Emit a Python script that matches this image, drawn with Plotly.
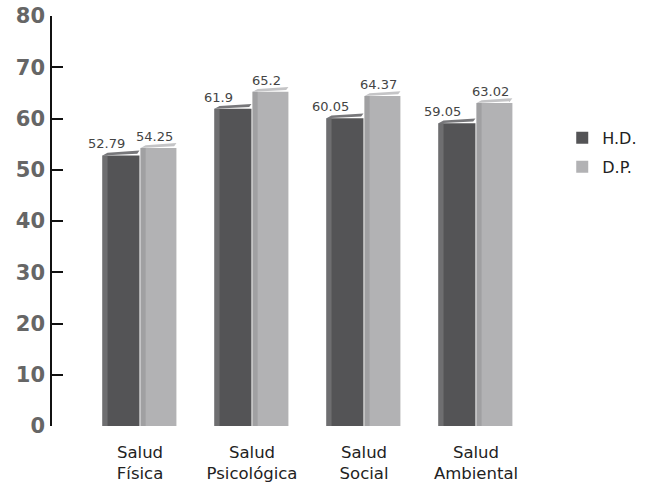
import plotly.graph_objects as go

categories = ["Salud<br>Física", "Salud<br>Psicológica", "Salud<br>Social", "Salud<br>Ambiental"]
hd_values = [52.79, 61.9, 60.05, 59.05]
dp_values = [54.25, 65.2, 64.37, 63.02]
y_ticks = [0, 10, 20, 30, 40, 50, 60, 70, 80]

series = [
    dict(name="H.D.", values=hd_values, color="#545456", side="#6e6e70", top="#77777a", offset=-0.335, width=0.33, label_dx=-0.3),
    dict(name="D.P.", values=dp_values, color="#b2b2b4", side="#a0a0a2", top="#c4c4c6", offset=0.005, width=0.32, label_dx=0.13),
]

FONT = "DejaVu Sans"
idx = list(range(len(categories)))
fig = go.Figure()
shapes = []
annotations = []
for s in series:
    fig.add_trace(go.Bar(
        x=idx, y=s["values"], name=s["name"], width=s["width"], offset=s["offset"],
        marker=dict(color=s["color"], line=dict(width=0)),
        legendgroup=s["name"], hoverinfo="skip",
    ))
    for i, v in zip(idx, s["values"]):
        xl = i + s["offset"]
        xr = xl + s["width"]
        # left side face
        shapes.append(dict(type="rect", xref="x", yref="y", x0=xl, x1=xl + 0.045, y0=-0.4, y1=v,
                           fillcolor=s["side"], line=dict(width=0), layer="above"))
        # top face
        shapes.append(dict(type="path", xref="x", yref="y",
                           path=f"M {xl},{v} L {xl+0.045},{v+0.55} L {xr},{v+0.95} L {xr-0.02},{v+0.35} Z",
                           fillcolor=s["top"], line=dict(width=0), layer="above"))
        annotations.append(dict(x=i + s["label_dx"], y=v, xref="x", yref="y", text=f"{v:g}",
                                showarrow=False, yanchor="bottom", yshift=2,
                                font=dict(family=FONT, size=13, color="#444444")))

fig.update_layout(
    width=659, height=484,
    margin=dict(l=52, r=127, t=16, b=58, autoexpand=False),
    paper_bgcolor="white", plot_bgcolor="white",
    barmode="overlay",
    shapes=shapes, annotations=annotations,
    showlegend=True,
    legend=dict(x=1.063, y=0.744, xanchor="left", yanchor="top",
                font=dict(family=FONT, size=16, color="#222222"),
                tracegroupgap=5, itemsizing="constant", bgcolor="rgba(0,0,0,0)"),
    xaxis=dict(range=[-0.786, 3.5], tickmode="array", tickvals=idx, ticktext=categories,
               showline=False, showgrid=False, zeroline=False, ticks="",
               tickfont=dict(family=FONT, size=16.5, color="#222222"),
               ticklabelstandoff=14, automargin=False, fixedrange=True),
    yaxis=dict(range=[0, 80], tickmode="array", tickvals=y_ticks, ticktext=[str(t) for t in y_ticks],
               showline=True, linecolor="#111111", linewidth=1.5, ticks="inside", ticklen=11,
               tickcolor="#111111", tickwidth=1.5, showgrid=False, zeroline=False,
               tickfont=dict(family=FONT, size=21, color="#666666", weight="bold"),
               ticklabelstandoff=1, ticklabeloverflow="allow", automargin=False, fixedrange=True),
)

fig.write_html("out.html", config={"displayModeBar": False},
               post_script="document.body.style.margin='0';")
